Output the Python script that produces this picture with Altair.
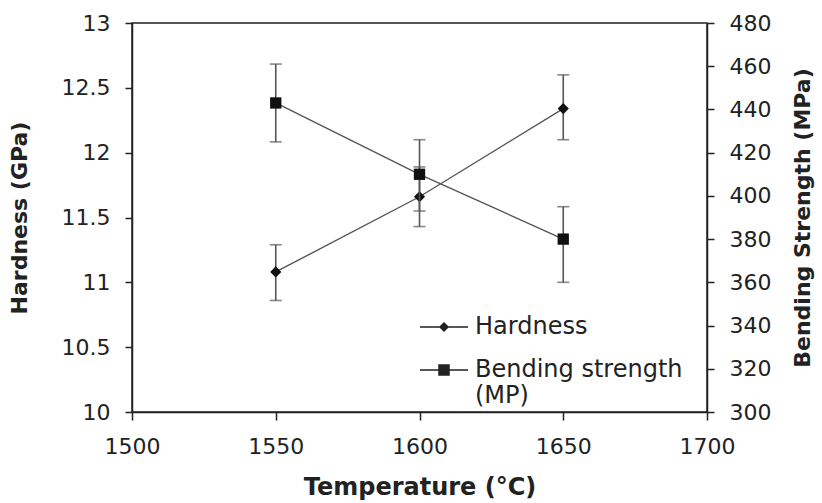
import altair as alt
import pandas as pd

temperature = [1550, 1600, 1650]
hardness = [11.08, 11.66, 12.34]
hardness_lo = [10.86, 11.43, 12.10]
hardness_hi = [11.29, 11.89, 12.60]
bending = [443, 410, 380]
bending_lo = [425, 393, 360]
bending_hi = [461, 426, 395]
series_names = ["Hardness", "Bending strength (MP)"]
x_ticks = [1500, 1550, 1600, 1650, 1700]
h_ticks = [10, 10.5, 11, 11.5, 12, 12.5, 13]
b_ticks = [300, 320, 340, 360, 380, 400, 420, 440, 460, 480]

rows = []
for t, v, lo, hi in zip(temperature, hardness, hardness_lo, hardness_hi):
    rows.append(dict(series=series_names[0], temp=t, value=v, lo=lo, hi=hi))
for t, v, lo, hi in zip(temperature, bending, bending_lo, bending_hi):
    rows.append(dict(series=series_names[1], temp=t, value=v, lo=lo, hi=hi))
df = pd.DataFrame(rows)

FONT = "DejaVu Sans"
TXT = "#222222"
AX = "#222222"

x_enc = alt.X(
    "temp:Q",
    scale=alt.Scale(domain=[1500, 1700], nice=False, zero=False),
    axis=alt.Axis(
        values=x_ticks, title="Temperature (°C)", format="d", labelFlush=False,
        grid=False, domainColor=AX, domainWidth=1.5, tickColor=AX, tickWidth=1.5,
        tickSize=8, labelPadding=16, labelFont=FONT, labelFontSize=22, labelColor=TXT,
        titleFont=FONT, titleFontSize=24, titleFontWeight="bold", titleColor=TXT,
        titlePadding=18,
    ),
)


def y_axis(title, orient, values, fmt, title_pad, title_angle):
    return alt.Axis(
        values=values, title=title, orient=orient, format=fmt, grid=False,
        domainColor=AX, domainWidth=1.5, tickColor=AX, tickWidth=1.5, tickSize=7,
        labelPadding=15, labelFont=FONT, labelFontSize=22, labelColor=TXT,
        titleFont=FONT, titleFontSize=22, titleFontWeight="bold", titleColor=TXT,
        titlePadding=title_pad, titleAngle=title_angle,
    )


# legend glyphs: a line with a (stroke-filled) diamond / square in its middle
DIAMOND_GLYPH = (
    "M-2.4,0H2.4"
    "M0,-0.4L0.4,0L0,0.4L-0.4,0Z"
    "M-0.3,-0.1H0.3M-0.2,-0.2H0.2M-0.1,-0.3H0.1"
    "M-0.3,0.1H0.3M-0.2,0.2H0.2M-0.1,0.3H0.1"
)
SQUARE_GLYPH = (
    "M-2.4,0H2.4"
    "M-0.5,-0.5H0.5V0.5H-0.5Z"
    "M-0.5,-0.38H0.5M-0.5,-0.26H0.5M-0.5,-0.14H0.5M-0.5,-0.02H0.5"
    "M-0.5,0.1H0.5M-0.5,0.22H0.5M-0.5,0.34H0.5"
)
LEGEND_PATHS = [DIAMOND_GLYPH, SQUARE_GLYPH]

legend = alt.Legend(
    title=None, orient="none", legendX=300, legendY=292,
    symbolSize=400, labelOffset=19, labelFont=FONT, labelFontSize=24,
    labelColor=TXT, rowPadding=19, padding=0, labelLimit=0,
    symbolOpacity=1, symbolStrokeColor="#222222", symbolStrokeWidth=1.5,
    labelExpr="datum.label == 'Bending strength (MP)' ? ['Bending strength', '(MP)'] : datum.label",
)


def series_layer(name, domain, axis, shape, size, with_legend):
    sc = alt.Scale(domain=domain, nice=False, zero=False)
    base = alt.Chart(df).transform_filter(alt.datum.series == name)
    rules = base.mark_rule(color="#555555", strokeWidth=1.6).encode(
        x=x_enc, y=alt.Y("lo:Q", scale=sc, axis=axis), y2="hi:Q"
    )
    cap_lo = base.mark_tick(orient="horizontal", size=12, thickness=1.6, color="#555555").encode(
        x=x_enc, y=alt.Y("lo:Q", scale=sc, axis=axis)
    )
    cap_hi = base.mark_tick(orient="horizontal", size=12, thickness=1.6, color="#555555").encode(
        x=x_enc, y=alt.Y("hi:Q", scale=sc, axis=axis)
    )
    line = base.mark_line(strokeWidth=1.4, color="#555555").encode(
        x=x_enc, y=alt.Y("value:Q", scale=sc, axis=axis)
    )
    pts = base.mark_point(shape=shape, filled=True, size=size, color="#111111", opacity=1).encode(
        x=x_enc, y=alt.Y("value:Q", scale=sc, axis=axis)
    )
    layers = [rules, cap_lo, cap_hi, line, pts]
    if with_legend:
        leg = alt.Chart(df).mark_point(
            opacity=0, filled=False, color="#222222", strokeWidth=1.5,
        ).encode(
            x=x_enc, y=alt.Y("value:Q", scale=sc, axis=axis),
            shape=alt.Shape(
                "series:N",
                scale=alt.Scale(domain=series_names, range=LEGEND_PATHS),
                legend=legend,
            ),
        ).transform_filter(alt.datum.series == name)
        layers.append(leg)
    return alt.layer(*layers)


h_layer = series_layer(
    series_names[0], [10, 13],
    y_axis("Hardness (GPa)", "left", h_ticks, "~g", 30, 270), "diamond", 125, True,
)
b_layer = series_layer(
    series_names[1], [300, 480],
    y_axis("Bending Strength (MPa)", "right", b_ticks, "d", 44, 270), "square", 128, False,
)

chart = (
    alt.layer(h_layer, b_layer)
    .resolve_scale(y="independent")
    .properties(
        width=575, height=389,
        autosize=alt.AutoSizeParams(type="none"),
        padding={"left": 132, "top": 23, "right": 115, "bottom": 91},
        background="white",
    )
    .configure_view(stroke=AX, strokeWidth=1.5)
)

chart.save("out.html", embed_options={"renderer": "svg", "actions": False})
